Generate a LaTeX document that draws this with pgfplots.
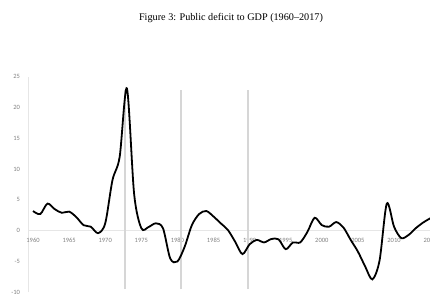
\documentclass[border=0pt]{standalone}
\usepackage{pgfplots}
\pgfplotsset{compat=1.18}
\usepackage{fontspec}
\setmainfont{Liberation Serif}
\newfontfamily\carlito{Carlito}
\definecolor{tickgray}{HTML}{808080}
\definecolor{axgray}{HTML}{E6E6E6}
\definecolor{vgray}{HTML}{D6D6D6}
\begin{document}
\begin{tikzpicture}[x=1pt,y=1pt]
\useasboundingbox (0,0) rectangle (430,293);
\clip (0,0) rectangle (430,293);
\node[font=\fontsize{10.2}{12}\selectfont] at (231,275) {Figure 3: Public deficit to GDP (1960--2017)};
\begin{axis}[
  at={(28.7pt,0.7pt)}, anchor=south west,
  scale only axis, width=420.2pt, height=215.6pt,
  xmin=1959.4, xmax=2017.6, ymin=-10, ymax=25,
  axis x line=middle, axis y line=left,
  axis line style={draw=axgray, line width=0.6pt, -},
  xtick={1960,1965,...,2015}, ytick={-10,-5,...,25},
  major tick style={draw=none},
  /pgf/number format/assume math mode=true,
  xticklabel style={font=\carlito\fontsize{6.5}{7}\selectfont, text=tickgray, yshift=-1.5pt, /pgf/number format/1000 sep={}},
  yticklabel style={font=\carlito\fontsize{6.5}{7}\selectfont, text=tickgray, xshift=-3pt},
  clip=false,
]
\addplot[vgray, line width=1.4pt] coordinates {(1972.75,-9.5) (1972.75,22.8)};
\addplot[vgray, line width=1.4pt] coordinates {(1980.5,-9.5) (1980.5,22.8)};
\addplot[vgray, line width=1.4pt] coordinates {(1989.75,-9.5) (1989.75,22.8)};
\addplot[black, line width=1.8pt, smooth] table {
x y
1960 3.2
1961 2.7
1962 4.4
1963 3.5
1964 2.9
1965 3.1
1966 2.2
1967 0.9
1968 0.65
1969 -0.4
1970 1.2
1971 8.2
1972 12.0
1973 23.1
1974 6.0
1975 0.4
1976 0.6
1977 1.2
1978 0.4
1979 -4.5
1980 -5.0
1981 -2.6
1982 0.9
1983 2.7
1984 3.2
1985 2.3
1986 1.2
1987 0.1
1988 -1.8
1989 -3.8
1990 -2.2
1991 -1.5
1992 -1.9
1993 -1.35
1994 -1.4
1995 -3.0
1996 -1.9
1997 -1.9
1998 -0.2
1999 2.1
2000 0.9
2001 0.65
2002 1.4
2003 0.5
2004 -1.5
2005 -3.4
2006 -5.8
2007 -7.9
2008 -4.8
2009 4.4
2010 0.65
2011 -1.2
2012 -0.7
2013 0.4
2014 1.3
2015 2.0
2016 2.5
2017 2.8
};
\end{axis}
\end{tikzpicture}
\end{document}
